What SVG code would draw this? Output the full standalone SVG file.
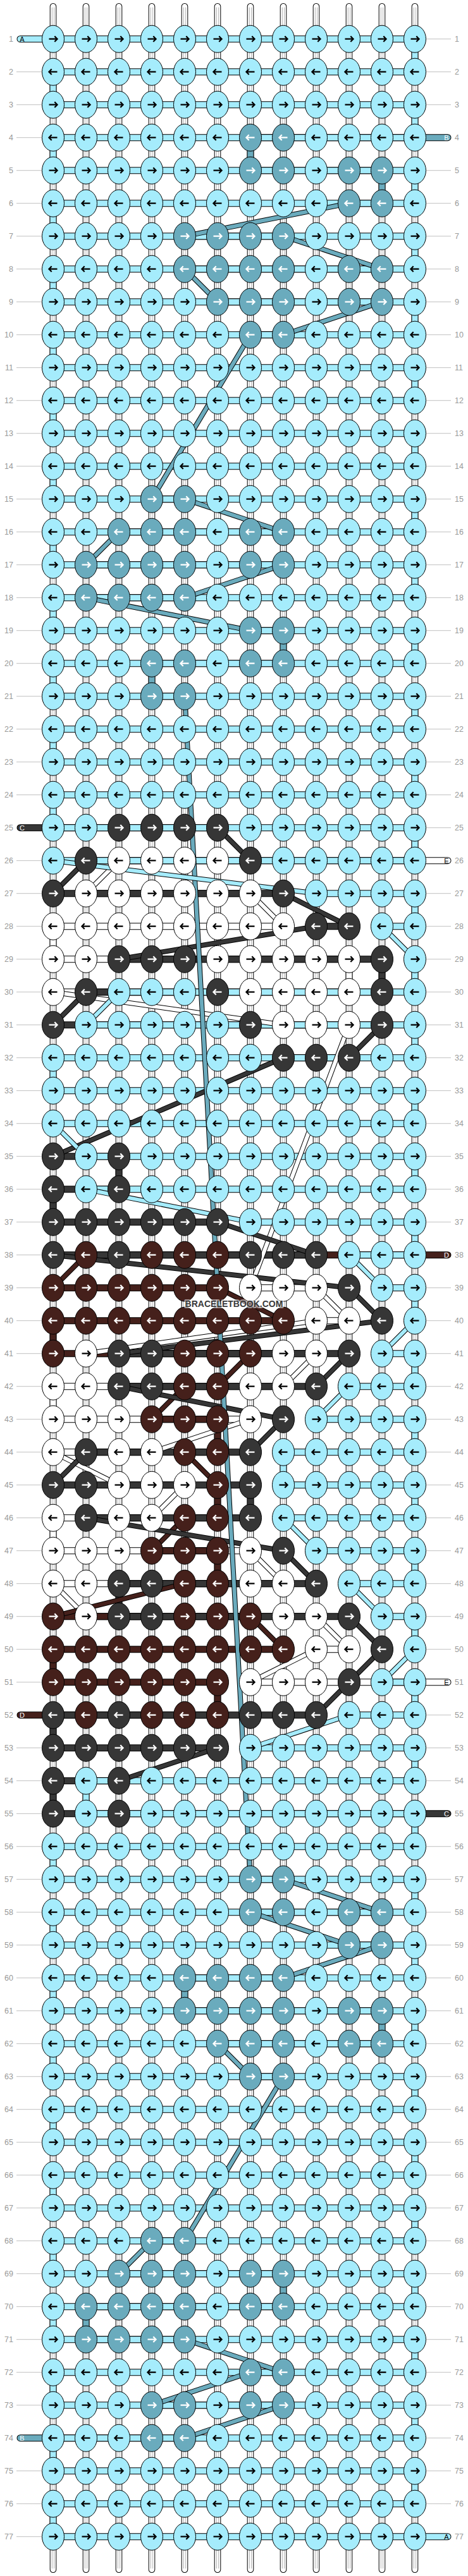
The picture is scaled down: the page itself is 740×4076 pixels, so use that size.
<svg xmlns="http://www.w3.org/2000/svg" width="740" height="4076" viewBox="0 0 740 4076">
<style>
.lb{font-family:"Liberation Sans",Arial,sans-serif;font-size:12.5px;fill:#999}
.l{text-anchor:end}
.ln{stroke:#c0c0c0;stroke-width:1;fill:none}
.sl{font-family:"Liberation Sans",Arial,sans-serif;font-size:11px;text-anchor:middle}
</style>
<defs>
<ellipse id="e" rx="17.5" ry="21.5" stroke="#000" stroke-width="1"/>
<path id="ar" d="M-6.5 0H5.5M2.3-4.4L6.6 0 2.3 4.4" fill="none" stroke-width="2.2"/>
<path id="al" d="M6.5 0H-5.5M-2.3-4.4L-6.6 0-2.3 4.4" fill="none" stroke-width="2.2"/>
<g id="aR"><use href="#e" fill="#a5ecfc"/><use href="#ar" stroke="#000"/></g>
<g id="aL"><use href="#e" fill="#a5ecfc"/><use href="#al" stroke="#000"/></g>
<g id="tR"><use href="#e" fill="#6aabbd"/><use href="#ar" stroke="#fff"/></g>
<g id="tL"><use href="#e" fill="#6aabbd"/><use href="#al" stroke="#fff"/></g>
<g id="gR"><use href="#e" fill="#363636"/><use href="#ar" stroke="#fff"/></g>
<g id="gL"><use href="#e" fill="#363636"/><use href="#al" stroke="#fff"/></g>
<g id="bR"><use href="#e" fill="#45201b"/><use href="#ar" stroke="#fff"/></g>
<g id="bL"><use href="#e" fill="#45201b"/><use href="#al" stroke="#fff"/></g>
<g id="wR"><use href="#e" fill="#fff"/><use href="#ar" stroke="#000"/></g>
<g id="wL"><use href="#e" fill="#fff"/><use href="#al" stroke="#000"/></g>
<path id="bA" d="M0 52H624V104H52V156H624V208H52V260H624V312H52V364H624V416H52V468H624V520H52V572H624V624H52V676H624V728H52V780H624V832H52V884H624V936H52V988H624V1040H52V1092H624V1144H52V1196H624V1248H52V1300H624V1352H52M468 1404H624V1456H572M624 1508V1560H156M104 1612H624V1664H52V1716H624V1768H52M104 1820H624V1872H104M364 1924H624V1976H520M572 2028H624V2080M572 2132H624V2184H520M468 2236H624V2288H416V2340H624V2392H416M468 2444H624V2496H520M572 2548H624V2600M572 2652H624V2704H520M364 2756H624V2808H104V2860H624V2912H52V2964H624V3016H52V3068H624V3120H52V3172H624V3224H52V3276H624V3328H52V3380H624V3432H52V3484H624V3536H52V3588H624V3640H52V3692H624V3744H52V3796H624V3848H52V3900H624V3952H52V4004H676"/>
<path id="dA" d="M52 1352L468 1404M572 1456L624 1508M156 1560L104 1612M52 1768L104 1820M104 1872L364 1924M520 1976L572 2028M624 2080L572 2132M520 2184L468 2236M416 2392L468 2444M520 2496L572 2548M624 2600L572 2652M520 2704L364 2756"/>
<path id="bB" d="M676 208H364V260H572V312H520M260 364H416M572 416H260M312 468H572M416 520H364M208 780H260M416 832H156M104 884H416M260 936H104M364 988H416V1040H208V1092H260M364 2964H416M572 3016H364M520 3068H572M416 3120H260V3172H572V3224H312M364 3276H416M260 3536H208M156 3588H416V3640H104V3692H260M416 3744H364M208 3796H416M260 3848H0"/>
<path id="dB" d="M520 312L260 364M416 364L572 416M260 416L312 468M572 468L416 520M364 520L208 780M260 780L416 832M156 832L104 884M416 884L260 936M104 936L364 988M260 1092L364 2964M416 2964L572 3016M364 3016L520 3068M572 3068L416 3120M312 3224L364 3276M416 3276L260 3536M208 3536L156 3588M260 3692L416 3744M364 3744L208 3796M416 3796L260 3848"/>
<path id="bC" d="M0 1300H312M364 1352H104M52 1404H416M520 1456H468M156 1508H572V1560H104M52 1612H572M520 1664H416M52 1820H156V1872H52V1924H312M468 1976H52M156 2132H520M468 2184H156M364 2288H104M52 2340H364V2392H104M468 2496H156V2548H520M468 2704H52V2756H312M156 2808H52V2860H676"/>
<path id="dC" d="M312 1300L364 1352M104 1352L52 1404M416 1404L520 1456M468 1456L156 1508M104 1560L52 1612M572 1612L520 1664M416 1664L52 1820M312 1924L468 1976M52 1976L520 2028L572 2080L156 2132M520 2132L468 2184M156 2184L416 2236L364 2288M104 2288L52 2340M104 2392L416 2444L468 2496M520 2548L572 2600L520 2652L468 2704M312 2756L156 2808"/>
<path id="bD" d="M676 1976H104M52 2028H312M416 2080H52V2132H364M312 2184H260M208 2236H312V2288H260M312 2340V2392H260M208 2444H312V2496H260M52 2548H364M416 2600H52V2652H312V2704H0"/>
<path id="dD" d="M104 1976L52 2028M312 2028L416 2080M364 2132L312 2184M260 2184L208 2236M260 2288L312 2340M260 2392L208 2444M260 2496L52 2548M364 2548L416 2600"/>
<path id="bE" d="M676 1352H156M104 1404H364M416 1456H52V1508H520V1560H52M416 1612H520M364 2028H468M520 2080H468M104 2132H468M416 2184H52V2236H364M208 2288H52M156 2340H260M208 2392H52V2444H364M416 2496H52M104 2548H468M520 2600H468M364 2652H676"/>
<path id="dE" d="M156 1352L104 1404M364 1404L416 1456M52 1560L416 1612M520 1612L364 2028M468 2028L520 2080M468 2080L104 2132M468 2132L416 2184M364 2236L208 2288M52 2288L156 2340M260 2340L208 2392M364 2444L416 2496M52 2496L104 2548M468 2548L520 2600M468 2600L364 2652"/>
</defs>
<rect width="740" height="4076" fill="#fff"/>
<g transform="translate(32,9.7)">
<g id="connectors" fill="none" stroke-linecap="round" stroke-linejoin="round">
<path d="M52 .5V4056M104 .5V4056M156 .5V4056M208 .5V4056M260 .5V4056M312 .5V4056M364 .5V4056M416 .5V4056M468 .5V4056M520 .5V4056M572 .5V4056M624 .5V4056" stroke="#000" stroke-width="10.6"/>
<path d="M52 .5V4056M104 .5V4056M156 .5V4056M208 .5V4056M260 .5V4056M312 .5V4056M364 .5V4056M416 .5V4056M468 .5V4056M520 .5V4056M572 .5V4056M624 .5V4056" stroke="#fff" stroke-width="8.6"/>
<path d="M50.3 2V4054.5M53.7 2V4054.5M102.3 2V4054.5M105.7 2V4054.5M154.3 2V4054.5M157.7 2V4054.5M206.3 2V4054.5M209.7 2V4054.5M258.3 2V4054.5M261.7 2V4054.5M310.3 2V4054.5M313.7 2V4054.5M362.3 2V4054.5M365.7 2V4054.5M414.3 2V4054.5M417.7 2V4054.5M466.3 2V4054.5M469.7 2V4054.5M518.3 2V4054.5M521.7 2V4054.5M570.3 2V4054.5M573.7 2V4054.5M622.3 2V4054.5M625.7 2V4054.5" stroke="#999" stroke-width=".8" stroke-linecap="butt"/>
<use href="#bE" stroke="#000" stroke-width="11"/><use href="#bE" stroke="#fff" stroke-width="9"/>
<use href="#bD" stroke="#000" stroke-width="11"/><use href="#bD" stroke="#45201b" stroke-width="9"/>
<use href="#bC" stroke="#000" stroke-width="11"/><use href="#bC" stroke="#363636" stroke-width="9"/>
<use href="#bB" stroke="#000" stroke-width="11"/><use href="#bB" stroke="#6aabbd" stroke-width="9"/>
<use href="#bA" stroke="#000" stroke-width="11"/><use href="#bA" stroke="#a5ecfc" stroke-width="9"/>
<use href="#dE" stroke="#000" stroke-width="8"/><use href="#dE" stroke="#fff" stroke-width="6"/>
<use href="#dD" stroke="#000" stroke-width="8"/><use href="#dD" stroke="#45201b" stroke-width="6"/>
<use href="#dC" stroke="#000" stroke-width="8"/><use href="#dC" stroke="#363636" stroke-width="6"/>
<use href="#dB" stroke="#000" stroke-width="8"/><use href="#dB" stroke="#6aabbd" stroke-width="6"/>
<use href="#dA" stroke="#000" stroke-width="8"/><use href="#dA" stroke="#a5ecfc" stroke-width="6"/>
<g class="sl" stroke="none">
<text x="3" y="56" fill="#000">A</text>
<text x="674" y="212" fill="#fff">B</text>
<text x="3" y="1304" fill="#fff">C</text>
<text x="674" y="1356" fill="#000">E</text>
<text x="674" y="1980" fill="#fff">D</text>
<text x="674" y="2656" fill="#000">E</text>
<text x="3" y="2708" fill="#fff">D</text>
<text x="674" y="2864" fill="#fff">C</text>
<text x="3" y="3852" fill="#fff">B</text>
<text x="674" y="4008" fill="#000">A</text>
</g>
</g>
<g id="r1" transform="translate(0,52)"><path class="ln" d="M642 0H681"/><text class="lb l" x="-11" y="4.5">1</text><text class="lb" x="687" y="4.5">1</text><use id="k1-1" href="#aR" x="52"/><use id="k1-2" href="#aR" x="104"/><use id="k1-3" href="#aR" x="156"/><use id="k1-4" href="#aR" x="208"/><use id="k1-5" href="#aR" x="260"/><use id="k1-6" href="#aR" x="312"/><use id="k1-7" href="#aR" x="364"/><use id="k1-8" href="#aR" x="416"/><use id="k1-9" href="#aR" x="468"/><use id="k1-10" href="#aR" x="520"/><use id="k1-11" href="#aR" x="572"/><use id="k1-12" href="#aR" x="624"/></g>
<g id="r2" transform="translate(0,104)"><path class="ln" d="M-6 0H34M642 0H681"/><text class="lb l" x="-11" y="4.5">2</text><text class="lb" x="687" y="4.5">2</text><use id="k2-1" href="#aL" x="52"/><use id="k2-2" href="#aL" x="104"/><use id="k2-3" href="#aL" x="156"/><use id="k2-4" href="#aL" x="208"/><use id="k2-5" href="#aL" x="260"/><use id="k2-6" href="#aL" x="312"/><use id="k2-7" href="#aL" x="364"/><use id="k2-8" href="#aL" x="416"/><use id="k2-9" href="#aL" x="468"/><use id="k2-10" href="#aL" x="520"/><use id="k2-11" href="#aL" x="572"/><use id="k2-12" href="#aL" x="624"/></g>
<g id="r3" transform="translate(0,156)"><path class="ln" d="M-6 0H34M642 0H681"/><text class="lb l" x="-11" y="4.5">3</text><text class="lb" x="687" y="4.5">3</text><use id="k3-1" href="#aR" x="52"/><use id="k3-2" href="#aR" x="104"/><use id="k3-3" href="#aR" x="156"/><use id="k3-4" href="#aR" x="208"/><use id="k3-5" href="#aR" x="260"/><use id="k3-6" href="#aR" x="312"/><use id="k3-7" href="#aR" x="364"/><use id="k3-8" href="#aR" x="416"/><use id="k3-9" href="#aR" x="468"/><use id="k3-10" href="#aR" x="520"/><use id="k3-11" href="#aR" x="572"/><use id="k3-12" href="#aR" x="624"/></g>
<g id="r4" transform="translate(0,208)"><path class="ln" d="M-6 0H34"/><text class="lb l" x="-11" y="4.5">4</text><text class="lb" x="687" y="4.5">4</text><use id="k4-1" href="#aL" x="52"/><use id="k4-2" href="#aL" x="104"/><use id="k4-3" href="#aL" x="156"/><use id="k4-4" href="#aL" x="208"/><use id="k4-5" href="#aL" x="260"/><use id="k4-6" href="#aL" x="312"/><use id="k4-7" href="#tL" x="364"/><use id="k4-8" href="#tL" x="416"/><use id="k4-9" href="#aL" x="468"/><use id="k4-10" href="#aL" x="520"/><use id="k4-11" href="#aL" x="572"/><use id="k4-12" href="#aL" x="624"/></g>
<g id="r5" transform="translate(0,260)"><path class="ln" d="M-6 0H34M642 0H681"/><text class="lb l" x="-11" y="4.5">5</text><text class="lb" x="687" y="4.5">5</text><use id="k5-1" href="#aR" x="52"/><use id="k5-2" href="#aR" x="104"/><use id="k5-3" href="#aR" x="156"/><use id="k5-4" href="#aR" x="208"/><use id="k5-5" href="#aR" x="260"/><use id="k5-6" href="#aR" x="312"/><use id="k5-7" href="#tR" x="364"/><use id="k5-8" href="#tR" x="416"/><use id="k5-9" href="#aR" x="468"/><use id="k5-10" href="#tR" x="520"/><use id="k5-11" href="#tR" x="572"/><use id="k5-12" href="#aR" x="624"/></g>
<g id="r6" transform="translate(0,312)"><path class="ln" d="M-6 0H34M642 0H681"/><text class="lb l" x="-11" y="4.5">6</text><text class="lb" x="687" y="4.5">6</text><use id="k6-1" href="#aL" x="52"/><use id="k6-2" href="#aL" x="104"/><use id="k6-3" href="#aL" x="156"/><use id="k6-4" href="#aL" x="208"/><use id="k6-5" href="#aL" x="260"/><use id="k6-6" href="#aL" x="312"/><use id="k6-7" href="#aL" x="364"/><use id="k6-8" href="#aL" x="416"/><use id="k6-9" href="#aL" x="468"/><use id="k6-10" href="#tL" x="520"/><use id="k6-11" href="#tL" x="572"/><use id="k6-12" href="#aL" x="624"/></g>
<g id="r7" transform="translate(0,364)"><path class="ln" d="M-6 0H34M642 0H681"/><text class="lb l" x="-11" y="4.5">7</text><text class="lb" x="687" y="4.5">7</text><use id="k7-1" href="#aR" x="52"/><use id="k7-2" href="#aR" x="104"/><use id="k7-3" href="#aR" x="156"/><use id="k7-4" href="#aR" x="208"/><use id="k7-5" href="#tR" x="260"/><use id="k7-6" href="#tR" x="312"/><use id="k7-7" href="#tR" x="364"/><use id="k7-8" href="#tR" x="416"/><use id="k7-9" href="#aR" x="468"/><use id="k7-10" href="#aR" x="520"/><use id="k7-11" href="#aR" x="572"/><use id="k7-12" href="#aR" x="624"/></g>
<g id="r8" transform="translate(0,416)"><path class="ln" d="M-6 0H34M642 0H681"/><text class="lb l" x="-11" y="4.5">8</text><text class="lb" x="687" y="4.5">8</text><use id="k8-1" href="#aL" x="52"/><use id="k8-2" href="#aL" x="104"/><use id="k8-3" href="#aL" x="156"/><use id="k8-4" href="#aL" x="208"/><use id="k8-5" href="#tL" x="260"/><use id="k8-6" href="#tL" x="312"/><use id="k8-7" href="#tL" x="364"/><use id="k8-8" href="#tL" x="416"/><use id="k8-9" href="#aL" x="468"/><use id="k8-10" href="#tL" x="520"/><use id="k8-11" href="#tL" x="572"/><use id="k8-12" href="#aL" x="624"/></g>
<g id="r9" transform="translate(0,468)"><path class="ln" d="M-6 0H34M642 0H681"/><text class="lb l" x="-11" y="4.5">9</text><text class="lb" x="687" y="4.5">9</text><use id="k9-1" href="#aR" x="52"/><use id="k9-2" href="#aR" x="104"/><use id="k9-3" href="#aR" x="156"/><use id="k9-4" href="#aR" x="208"/><use id="k9-5" href="#aR" x="260"/><use id="k9-6" href="#tR" x="312"/><use id="k9-7" href="#tR" x="364"/><use id="k9-8" href="#tR" x="416"/><use id="k9-9" href="#aR" x="468"/><use id="k9-10" href="#tR" x="520"/><use id="k9-11" href="#tR" x="572"/><use id="k9-12" href="#aR" x="624"/></g>
<g id="r10" transform="translate(0,520)"><path class="ln" d="M-6 0H34M642 0H681"/><text class="lb l" x="-11" y="4.5">10</text><text class="lb" x="687" y="4.5">10</text><use id="k10-1" href="#aL" x="52"/><use id="k10-2" href="#aL" x="104"/><use id="k10-3" href="#aL" x="156"/><use id="k10-4" href="#aL" x="208"/><use id="k10-5" href="#aL" x="260"/><use id="k10-6" href="#aL" x="312"/><use id="k10-7" href="#tL" x="364"/><use id="k10-8" href="#tL" x="416"/><use id="k10-9" href="#aL" x="468"/><use id="k10-10" href="#aL" x="520"/><use id="k10-11" href="#aL" x="572"/><use id="k10-12" href="#aL" x="624"/></g>
<g id="r11" transform="translate(0,572)"><path class="ln" d="M-6 0H34M642 0H681"/><text class="lb l" x="-11" y="4.5">11</text><text class="lb" x="687" y="4.5">11</text><use id="k11-1" href="#aR" x="52"/><use id="k11-2" href="#aR" x="104"/><use id="k11-3" href="#aR" x="156"/><use id="k11-4" href="#aR" x="208"/><use id="k11-5" href="#aR" x="260"/><use id="k11-6" href="#aR" x="312"/><use id="k11-7" href="#aR" x="364"/><use id="k11-8" href="#aR" x="416"/><use id="k11-9" href="#aR" x="468"/><use id="k11-10" href="#aR" x="520"/><use id="k11-11" href="#aR" x="572"/><use id="k11-12" href="#aR" x="624"/></g>
<g id="r12" transform="translate(0,624)"><path class="ln" d="M-6 0H34M642 0H681"/><text class="lb l" x="-11" y="4.5">12</text><text class="lb" x="687" y="4.5">12</text><use id="k12-1" href="#aL" x="52"/><use id="k12-2" href="#aL" x="104"/><use id="k12-3" href="#aL" x="156"/><use id="k12-4" href="#aL" x="208"/><use id="k12-5" href="#aL" x="260"/><use id="k12-6" href="#aL" x="312"/><use id="k12-7" href="#aL" x="364"/><use id="k12-8" href="#aL" x="416"/><use id="k12-9" href="#aL" x="468"/><use id="k12-10" href="#aL" x="520"/><use id="k12-11" href="#aL" x="572"/><use id="k12-12" href="#aL" x="624"/></g>
<g id="r13" transform="translate(0,676)"><path class="ln" d="M-6 0H34M642 0H681"/><text class="lb l" x="-11" y="4.5">13</text><text class="lb" x="687" y="4.5">13</text><use id="k13-1" href="#aR" x="52"/><use id="k13-2" href="#aR" x="104"/><use id="k13-3" href="#aR" x="156"/><use id="k13-4" href="#aR" x="208"/><use id="k13-5" href="#aR" x="260"/><use id="k13-6" href="#aR" x="312"/><use id="k13-7" href="#aR" x="364"/><use id="k13-8" href="#aR" x="416"/><use id="k13-9" href="#aR" x="468"/><use id="k13-10" href="#aR" x="520"/><use id="k13-11" href="#aR" x="572"/><use id="k13-12" href="#aR" x="624"/></g>
<g id="r14" transform="translate(0,728)"><path class="ln" d="M-6 0H34M642 0H681"/><text class="lb l" x="-11" y="4.5">14</text><text class="lb" x="687" y="4.5">14</text><use id="k14-1" href="#aL" x="52"/><use id="k14-2" href="#aL" x="104"/><use id="k14-3" href="#aL" x="156"/><use id="k14-4" href="#aL" x="208"/><use id="k14-5" href="#aL" x="260"/><use id="k14-6" href="#aL" x="312"/><use id="k14-7" href="#aL" x="364"/><use id="k14-8" href="#aL" x="416"/><use id="k14-9" href="#aL" x="468"/><use id="k14-10" href="#aL" x="520"/><use id="k14-11" href="#aL" x="572"/><use id="k14-12" href="#aL" x="624"/></g>
<g id="r15" transform="translate(0,780)"><path class="ln" d="M-6 0H34M642 0H681"/><text class="lb l" x="-11" y="4.5">15</text><text class="lb" x="687" y="4.5">15</text><use id="k15-1" href="#aR" x="52"/><use id="k15-2" href="#aR" x="104"/><use id="k15-3" href="#aR" x="156"/><use id="k15-4" href="#tR" x="208"/><use id="k15-5" href="#tR" x="260"/><use id="k15-6" href="#aR" x="312"/><use id="k15-7" href="#aR" x="364"/><use id="k15-8" href="#aR" x="416"/><use id="k15-9" href="#aR" x="468"/><use id="k15-10" href="#aR" x="520"/><use id="k15-11" href="#aR" x="572"/><use id="k15-12" href="#aR" x="624"/></g>
<g id="r16" transform="translate(0,832)"><path class="ln" d="M-6 0H34M642 0H681"/><text class="lb l" x="-11" y="4.5">16</text><text class="lb" x="687" y="4.5">16</text><use id="k16-1" href="#aL" x="52"/><use id="k16-2" href="#aL" x="104"/><use id="k16-3" href="#tL" x="156"/><use id="k16-4" href="#tL" x="208"/><use id="k16-5" href="#tL" x="260"/><use id="k16-6" href="#aL" x="312"/><use id="k16-7" href="#tL" x="364"/><use id="k16-8" href="#tL" x="416"/><use id="k16-9" href="#aL" x="468"/><use id="k16-10" href="#aL" x="520"/><use id="k16-11" href="#aL" x="572"/><use id="k16-12" href="#aL" x="624"/></g>
<g id="r17" transform="translate(0,884)"><path class="ln" d="M-6 0H34M642 0H681"/><text class="lb l" x="-11" y="4.5">17</text><text class="lb" x="687" y="4.5">17</text><use id="k17-1" href="#aR" x="52"/><use id="k17-2" href="#tR" x="104"/><use id="k17-3" href="#tR" x="156"/><use id="k17-4" href="#tR" x="208"/><use id="k17-5" href="#tR" x="260"/><use id="k17-6" href="#aR" x="312"/><use id="k17-7" href="#tR" x="364"/><use id="k17-8" href="#tR" x="416"/><use id="k17-9" href="#aR" x="468"/><use id="k17-10" href="#aR" x="520"/><use id="k17-11" href="#aR" x="572"/><use id="k17-12" href="#aR" x="624"/></g>
<g id="r18" transform="translate(0,936)"><path class="ln" d="M-6 0H34M642 0H681"/><text class="lb l" x="-11" y="4.5">18</text><text class="lb" x="687" y="4.5">18</text><use id="k18-1" href="#aL" x="52"/><use id="k18-2" href="#tL" x="104"/><use id="k18-3" href="#tL" x="156"/><use id="k18-4" href="#tL" x="208"/><use id="k18-5" href="#tL" x="260"/><use id="k18-6" href="#aL" x="312"/><use id="k18-7" href="#aL" x="364"/><use id="k18-8" href="#aL" x="416"/><use id="k18-9" href="#aL" x="468"/><use id="k18-10" href="#aL" x="520"/><use id="k18-11" href="#aL" x="572"/><use id="k18-12" href="#aL" x="624"/></g>
<g id="r19" transform="translate(0,988)"><path class="ln" d="M-6 0H34M642 0H681"/><text class="lb l" x="-11" y="4.5">19</text><text class="lb" x="687" y="4.5">19</text><use id="k19-1" href="#aR" x="52"/><use id="k19-2" href="#aR" x="104"/><use id="k19-3" href="#aR" x="156"/><use id="k19-4" href="#aR" x="208"/><use id="k19-5" href="#aR" x="260"/><use id="k19-6" href="#aR" x="312"/><use id="k19-7" href="#tR" x="364"/><use id="k19-8" href="#tR" x="416"/><use id="k19-9" href="#aR" x="468"/><use id="k19-10" href="#aR" x="520"/><use id="k19-11" href="#aR" x="572"/><use id="k19-12" href="#aR" x="624"/></g>
<g id="r20" transform="translate(0,1040)"><path class="ln" d="M-6 0H34M642 0H681"/><text class="lb l" x="-11" y="4.5">20</text><text class="lb" x="687" y="4.5">20</text><use id="k20-1" href="#aL" x="52"/><use id="k20-2" href="#aL" x="104"/><use id="k20-3" href="#aL" x="156"/><use id="k20-4" href="#tL" x="208"/><use id="k20-5" href="#tL" x="260"/><use id="k20-6" href="#aL" x="312"/><use id="k20-7" href="#tL" x="364"/><use id="k20-8" href="#tL" x="416"/><use id="k20-9" href="#aL" x="468"/><use id="k20-10" href="#aL" x="520"/><use id="k20-11" href="#aL" x="572"/><use id="k20-12" href="#aL" x="624"/></g>
<g id="r21" transform="translate(0,1092)"><path class="ln" d="M-6 0H34M642 0H681"/><text class="lb l" x="-11" y="4.5">21</text><text class="lb" x="687" y="4.5">21</text><use id="k21-1" href="#aR" x="52"/><use id="k21-2" href="#aR" x="104"/><use id="k21-3" href="#aR" x="156"/><use id="k21-4" href="#tR" x="208"/><use id="k21-5" href="#tR" x="260"/><use id="k21-6" href="#aR" x="312"/><use id="k21-7" href="#aR" x="364"/><use id="k21-8" href="#aR" x="416"/><use id="k21-9" href="#aR" x="468"/><use id="k21-10" href="#aR" x="520"/><use id="k21-11" href="#aR" x="572"/><use id="k21-12" href="#aR" x="624"/></g>
<g id="r22" transform="translate(0,1144)"><path class="ln" d="M-6 0H34M642 0H681"/><text class="lb l" x="-11" y="4.5">22</text><text class="lb" x="687" y="4.5">22</text><use id="k22-1" href="#aL" x="52"/><use id="k22-2" href="#aL" x="104"/><use id="k22-3" href="#aL" x="156"/><use id="k22-4" href="#aL" x="208"/><use id="k22-5" href="#aL" x="260"/><use id="k22-6" href="#aL" x="312"/><use id="k22-7" href="#aL" x="364"/><use id="k22-8" href="#aL" x="416"/><use id="k22-9" href="#aL" x="468"/><use id="k22-10" href="#aL" x="520"/><use id="k22-11" href="#aL" x="572"/><use id="k22-12" href="#aL" x="624"/></g>
<g id="r23" transform="translate(0,1196)"><path class="ln" d="M-6 0H34M642 0H681"/><text class="lb l" x="-11" y="4.5">23</text><text class="lb" x="687" y="4.5">23</text><use id="k23-1" href="#aR" x="52"/><use id="k23-2" href="#aR" x="104"/><use id="k23-3" href="#aR" x="156"/><use id="k23-4" href="#aR" x="208"/><use id="k23-5" href="#aR" x="260"/><use id="k23-6" href="#aR" x="312"/><use id="k23-7" href="#aR" x="364"/><use id="k23-8" href="#aR" x="416"/><use id="k23-9" href="#aR" x="468"/><use id="k23-10" href="#aR" x="520"/><use id="k23-11" href="#aR" x="572"/><use id="k23-12" href="#aR" x="624"/></g>
<g id="r24" transform="translate(0,1248)"><path class="ln" d="M-6 0H34M642 0H681"/><text class="lb l" x="-11" y="4.5">24</text><text class="lb" x="687" y="4.5">24</text><use id="k24-1" href="#aL" x="52"/><use id="k24-2" href="#aL" x="104"/><use id="k24-3" href="#aL" x="156"/><use id="k24-4" href="#aL" x="208"/><use id="k24-5" href="#aL" x="260"/><use id="k24-6" href="#aL" x="312"/><use id="k24-7" href="#aL" x="364"/><use id="k24-8" href="#aL" x="416"/><use id="k24-9" href="#aL" x="468"/><use id="k24-10" href="#aL" x="520"/><use id="k24-11" href="#aL" x="572"/><use id="k24-12" href="#aL" x="624"/></g>
<g id="r25" transform="translate(0,1300)"><path class="ln" d="M642 0H681"/><text class="lb l" x="-11" y="4.5">25</text><text class="lb" x="687" y="4.5">25</text><use id="k25-1" href="#aR" x="52"/><use id="k25-2" href="#aR" x="104"/><use id="k25-3" href="#gR" x="156"/><use id="k25-4" href="#gR" x="208"/><use id="k25-5" href="#gR" x="260"/><use id="k25-6" href="#gR" x="312"/><use id="k25-7" href="#aR" x="364"/><use id="k25-8" href="#aR" x="416"/><use id="k25-9" href="#aR" x="468"/><use id="k25-10" href="#aR" x="520"/><use id="k25-11" href="#aR" x="572"/><use id="k25-12" href="#aR" x="624"/></g>
<g id="r26" transform="translate(0,1352)"><path class="ln" d="M-6 0H34"/><text class="lb l" x="-11" y="4.5">26</text><text class="lb" x="687" y="4.5">26</text><use id="k26-1" href="#aL" x="52"/><use id="k26-2" href="#gL" x="104"/><use id="k26-3" href="#wL" x="156"/><use id="k26-4" href="#wL" x="208"/><use id="k26-5" href="#wL" x="260"/><use id="k26-6" href="#wL" x="312"/><use id="k26-7" href="#gL" x="364"/><use id="k26-8" href="#aL" x="416"/><use id="k26-9" href="#aL" x="468"/><use id="k26-10" href="#aL" x="520"/><use id="k26-11" href="#aL" x="572"/><use id="k26-12" href="#aL" x="624"/></g>
<g id="r27" transform="translate(0,1404)"><path class="ln" d="M-6 0H34M642 0H681"/><text class="lb l" x="-11" y="4.5">27</text><text class="lb" x="687" y="4.5">27</text><use id="k27-1" href="#gR" x="52"/><use id="k27-2" href="#wR" x="104"/><use id="k27-3" href="#wR" x="156"/><use id="k27-4" href="#wR" x="208"/><use id="k27-5" href="#wR" x="260"/><use id="k27-6" href="#wR" x="312"/><use id="k27-7" href="#wR" x="364"/><use id="k27-8" href="#gR" x="416"/><use id="k27-9" href="#aR" x="468"/><use id="k27-10" href="#aR" x="520"/><use id="k27-11" href="#aR" x="572"/><use id="k27-12" href="#aR" x="624"/></g>
<g id="r28" transform="translate(0,1456)"><path class="ln" d="M-6 0H34M642 0H681"/><text class="lb l" x="-11" y="4.5">28</text><text class="lb" x="687" y="4.5">28</text><use id="k28-1" href="#wL" x="52"/><use id="k28-2" href="#wL" x="104"/><use id="k28-3" href="#wL" x="156"/><use id="k28-4" href="#wL" x="208"/><use id="k28-5" href="#wL" x="260"/><use id="k28-6" href="#wL" x="312"/><use id="k28-7" href="#wL" x="364"/><use id="k28-8" href="#wL" x="416"/><use id="k28-9" href="#gL" x="468"/><use id="k28-10" href="#gL" x="520"/><use id="k28-11" href="#aL" x="572"/><use id="k28-12" href="#aL" x="624"/></g>
<g id="r29" transform="translate(0,1508)"><path class="ln" d="M-6 0H34M642 0H681"/><text class="lb l" x="-11" y="4.5">29</text><text class="lb" x="687" y="4.5">29</text><use id="k29-1" href="#wR" x="52"/><use id="k29-2" href="#wR" x="104"/><use id="k29-3" href="#gR" x="156"/><use id="k29-4" href="#gR" x="208"/><use id="k29-5" href="#gR" x="260"/><use id="k29-6" href="#wR" x="312"/><use id="k29-7" href="#wR" x="364"/><use id="k29-8" href="#wR" x="416"/><use id="k29-9" href="#wR" x="468"/><use id="k29-10" href="#wR" x="520"/><use id="k29-11" href="#gR" x="572"/><use id="k29-12" href="#aR" x="624"/></g>
<g id="r30" transform="translate(0,1560)"><path class="ln" d="M-6 0H34M642 0H681"/><text class="lb l" x="-11" y="4.5">30</text><text class="lb" x="687" y="4.5">30</text><use id="k30-1" href="#wL" x="52"/><use id="k30-2" href="#gL" x="104"/><use id="k30-3" href="#aL" x="156"/><use id="k30-4" href="#aL" x="208"/><use id="k30-5" href="#aL" x="260"/><use id="k30-6" href="#gL" x="312"/><use id="k30-7" href="#wL" x="364"/><use id="k30-8" href="#wL" x="416"/><use id="k30-9" href="#wL" x="468"/><use id="k30-10" href="#wL" x="520"/><use id="k30-11" href="#gL" x="572"/><use id="k30-12" href="#aL" x="624"/></g>
<g id="r31" transform="translate(0,1612)"><path class="ln" d="M-6 0H34M642 0H681"/><text class="lb l" x="-11" y="4.5">31</text><text class="lb" x="687" y="4.5">31</text><use id="k31-1" href="#gR" x="52"/><use id="k31-2" href="#aR" x="104"/><use id="k31-3" href="#aR" x="156"/><use id="k31-4" href="#aR" x="208"/><use id="k31-5" href="#aR" x="260"/><use id="k31-6" href="#aR" x="312"/><use id="k31-7" href="#gR" x="364"/><use id="k31-8" href="#wR" x="416"/><use id="k31-9" href="#wR" x="468"/><use id="k31-10" href="#wR" x="520"/><use id="k31-11" href="#gR" x="572"/><use id="k31-12" href="#aR" x="624"/></g>
<g id="r32" transform="translate(0,1664)"><path class="ln" d="M-6 0H34M642 0H681"/><text class="lb l" x="-11" y="4.5">32</text><text class="lb" x="687" y="4.5">32</text><use id="k32-1" href="#aL" x="52"/><use id="k32-2" href="#aL" x="104"/><use id="k32-3" href="#aL" x="156"/><use id="k32-4" href="#aL" x="208"/><use id="k32-5" href="#aL" x="260"/><use id="k32-6" href="#aL" x="312"/><use id="k32-7" href="#aL" x="364"/><use id="k32-8" href="#gL" x="416"/><use id="k32-9" href="#gL" x="468"/><use id="k32-10" href="#gL" x="520"/><use id="k32-11" href="#aL" x="572"/><use id="k32-12" href="#aL" x="624"/></g>
<g id="r33" transform="translate(0,1716)"><path class="ln" d="M-6 0H34M642 0H681"/><text class="lb l" x="-11" y="4.5">33</text><text class="lb" x="687" y="4.5">33</text><use id="k33-1" href="#aR" x="52"/><use id="k33-2" href="#aR" x="104"/><use id="k33-3" href="#aR" x="156"/><use id="k33-4" href="#aR" x="208"/><use id="k33-5" href="#aR" x="260"/><use id="k33-6" href="#aR" x="312"/><use id="k33-7" href="#aR" x="364"/><use id="k33-8" href="#aR" x="416"/><use id="k33-9" href="#aR" x="468"/><use id="k33-10" href="#aR" x="520"/><use id="k33-11" href="#aR" x="572"/><use id="k33-12" href="#aR" x="624"/></g>
<g id="r34" transform="translate(0,1768)"><path class="ln" d="M-6 0H34M642 0H681"/><text class="lb l" x="-11" y="4.5">34</text><text class="lb" x="687" y="4.5">34</text><use id="k34-1" href="#aL" x="52"/><use id="k34-2" href="#aL" x="104"/><use id="k34-3" href="#aL" x="156"/><use id="k34-4" href="#aL" x="208"/><use id="k34-5" href="#aL" x="260"/><use id="k34-6" href="#aL" x="312"/><use id="k34-7" href="#aL" x="364"/><use id="k34-8" href="#aL" x="416"/><use id="k34-9" href="#aL" x="468"/><use id="k34-10" href="#aL" x="520"/><use id="k34-11" href="#aL" x="572"/><use id="k34-12" href="#aL" x="624"/></g>
<g id="r35" transform="translate(0,1820)"><path class="ln" d="M-6 0H34M642 0H681"/><text class="lb l" x="-11" y="4.5">35</text><text class="lb" x="687" y="4.5">35</text><use id="k35-1" href="#gR" x="52"/><use id="k35-2" href="#aR" x="104"/><use id="k35-3" href="#gR" x="156"/><use id="k35-4" href="#aR" x="208"/><use id="k35-5" href="#aR" x="260"/><use id="k35-6" href="#aR" x="312"/><use id="k35-7" href="#aR" x="364"/><use id="k35-8" href="#aR" x="416"/><use id="k35-9" href="#aR" x="468"/><use id="k35-10" href="#aR" x="520"/><use id="k35-11" href="#aR" x="572"/><use id="k35-12" href="#aR" x="624"/></g>
<g id="r36" transform="translate(0,1872)"><path class="ln" d="M-6 0H34M642 0H681"/><text class="lb l" x="-11" y="4.5">36</text><text class="lb" x="687" y="4.5">36</text><use id="k36-1" href="#gL" x="52"/><use id="k36-2" href="#aL" x="104"/><use id="k36-3" href="#gL" x="156"/><use id="k36-4" href="#aL" x="208"/><use id="k36-5" href="#aL" x="260"/><use id="k36-6" href="#aL" x="312"/><use id="k36-7" href="#aL" x="364"/><use id="k36-8" href="#aL" x="416"/><use id="k36-9" href="#aL" x="468"/><use id="k36-10" href="#aL" x="520"/><use id="k36-11" href="#aL" x="572"/><use id="k36-12" href="#aL" x="624"/></g>
<g id="r37" transform="translate(0,1924)"><path class="ln" d="M-6 0H34M642 0H681"/><text class="lb l" x="-11" y="4.5">37</text><text class="lb" x="687" y="4.5">37</text><use id="k37-1" href="#gR" x="52"/><use id="k37-2" href="#gR" x="104"/><use id="k37-3" href="#gR" x="156"/><use id="k37-4" href="#gR" x="208"/><use id="k37-5" href="#gR" x="260"/><use id="k37-6" href="#gR" x="312"/><use id="k37-7" href="#aR" x="364"/><use id="k37-8" href="#aR" x="416"/><use id="k37-9" href="#aR" x="468"/><use id="k37-10" href="#aR" x="520"/><use id="k37-11" href="#aR" x="572"/><use id="k37-12" href="#aR" x="624"/></g>
<g id="r38" transform="translate(0,1976)"><path class="ln" d="M-6 0H34"/><text class="lb l" x="-11" y="4.5">38</text><text class="lb" x="687" y="4.5">38</text><use id="k38-1" href="#gL" x="52"/><use id="k38-2" href="#bL" x="104"/><use id="k38-3" href="#gL" x="156"/><use id="k38-4" href="#bL" x="208"/><use id="k38-5" href="#bL" x="260"/><use id="k38-6" href="#bL" x="312"/><use id="k38-7" href="#gL" x="364"/><use id="k38-8" href="#gL" x="416"/><use id="k38-9" href="#gL" x="468"/><use id="k38-10" href="#aL" x="520"/><use id="k38-11" href="#aL" x="572"/><use id="k38-12" href="#aL" x="624"/></g>
<g id="r39" transform="translate(0,2028)"><path class="ln" d="M-6 0H34M642 0H681"/><text class="lb l" x="-11" y="4.5">39</text><text class="lb" x="687" y="4.5">39</text><use id="k39-1" href="#bR" x="52"/><use id="k39-2" href="#bR" x="104"/><use id="k39-3" href="#bR" x="156"/><use id="k39-4" href="#bR" x="208"/><use id="k39-5" href="#bR" x="260"/><use id="k39-6" href="#bR" x="312"/><use id="k39-7" href="#wR" x="364"/><use id="k39-8" href="#wR" x="416"/><use id="k39-9" href="#wR" x="468"/><use id="k39-10" href="#gR" x="520"/><use id="k39-11" href="#aR" x="572"/><use id="k39-12" href="#aR" x="624"/></g>
<g id="r40" transform="translate(0,2080)"><path class="ln" d="M-6 0H34M642 0H681"/><text class="lb l" x="-11" y="4.5">40</text><text class="lb" x="687" y="4.5">40</text><use id="k40-1" href="#bL" x="52"/><use id="k40-2" href="#bL" x="104"/><use id="k40-3" href="#bL" x="156"/><use id="k40-4" href="#bL" x="208"/><use id="k40-5" href="#bL" x="260"/><use id="k40-6" href="#bL" x="312"/><use id="k40-7" href="#bL" x="364"/><use id="k40-8" href="#bL" x="416"/><use id="k40-9" href="#wL" x="468"/><use id="k40-10" href="#wL" x="520"/><use id="k40-11" href="#gL" x="572"/><use id="k40-12" href="#aL" x="624"/></g>
<g id="r41" transform="translate(0,2132)"><path class="ln" d="M-6 0H34M642 0H681"/><text class="lb l" x="-11" y="4.5">41</text><text class="lb" x="687" y="4.5">41</text><use id="k41-1" href="#bR" x="52"/><use id="k41-2" href="#wR" x="104"/><use id="k41-3" href="#gR" x="156"/><use id="k41-4" href="#gR" x="208"/><use id="k41-5" href="#bR" x="260"/><use id="k41-6" href="#bR" x="312"/><use id="k41-7" href="#bR" x="364"/><use id="k41-8" href="#wR" x="416"/><use id="k41-9" href="#wR" x="468"/><use id="k41-10" href="#gR" x="520"/><use id="k41-11" href="#aR" x="572"/><use id="k41-12" href="#aR" x="624"/></g>
<g id="r42" transform="translate(0,2184)"><path class="ln" d="M-6 0H34M642 0H681"/><text class="lb l" x="-11" y="4.5">42</text><text class="lb" x="687" y="4.5">42</text><use id="k42-1" href="#wL" x="52"/><use id="k42-2" href="#wL" x="104"/><use id="k42-3" href="#gL" x="156"/><use id="k42-4" href="#gL" x="208"/><use id="k42-5" href="#bL" x="260"/><use id="k42-6" href="#bL" x="312"/><use id="k42-7" href="#wL" x="364"/><use id="k42-8" href="#wL" x="416"/><use id="k42-9" href="#gL" x="468"/><use id="k42-10" href="#aL" x="520"/><use id="k42-11" href="#aL" x="572"/><use id="k42-12" href="#aL" x="624"/></g>
<g id="r43" transform="translate(0,2236)"><path class="ln" d="M-6 0H34M642 0H681"/><text class="lb l" x="-11" y="4.5">43</text><text class="lb" x="687" y="4.5">43</text><use id="k43-1" href="#wR" x="52"/><use id="k43-2" href="#wR" x="104"/><use id="k43-3" href="#wR" x="156"/><use id="k43-4" href="#bR" x="208"/><use id="k43-5" href="#bR" x="260"/><use id="k43-6" href="#bR" x="312"/><use id="k43-7" href="#wR" x="364"/><use id="k43-8" href="#gR" x="416"/><use id="k43-9" href="#aR" x="468"/><use id="k43-10" href="#aR" x="520"/><use id="k43-11" href="#aR" x="572"/><use id="k43-12" href="#aR" x="624"/></g>
<g id="r44" transform="translate(0,2288)"><path class="ln" d="M-6 0H34M642 0H681"/><text class="lb l" x="-11" y="4.5">44</text><text class="lb" x="687" y="4.5">44</text><use id="k44-1" href="#wL" x="52"/><use id="k44-2" href="#gL" x="104"/><use id="k44-3" href="#wL" x="156"/><use id="k44-4" href="#wL" x="208"/><use id="k44-5" href="#bL" x="260"/><use id="k44-6" href="#bL" x="312"/><use id="k44-7" href="#gL" x="364"/><use id="k44-8" href="#aL" x="416"/><use id="k44-9" href="#aL" x="468"/><use id="k44-10" href="#aL" x="520"/><use id="k44-11" href="#aL" x="572"/><use id="k44-12" href="#aL" x="624"/></g>
<g id="r45" transform="translate(0,2340)"><path class="ln" d="M-6 0H34M642 0H681"/><text class="lb l" x="-11" y="4.5">45</text><text class="lb" x="687" y="4.5">45</text><use id="k45-1" href="#gR" x="52"/><use id="k45-2" href="#gR" x="104"/><use id="k45-3" href="#wR" x="156"/><use id="k45-4" href="#wR" x="208"/><use id="k45-5" href="#wR" x="260"/><use id="k45-6" href="#bR" x="312"/><use id="k45-7" href="#gR" x="364"/><use id="k45-8" href="#aR" x="416"/><use id="k45-9" href="#aR" x="468"/><use id="k45-10" href="#aR" x="520"/><use id="k45-11" href="#aR" x="572"/><use id="k45-12" href="#aR" x="624"/></g>
<g id="r46" transform="translate(0,2392)"><path class="ln" d="M-6 0H34M642 0H681"/><text class="lb l" x="-11" y="4.5">46</text><text class="lb" x="687" y="4.5">46</text><use id="k46-1" href="#wL" x="52"/><use id="k46-2" href="#gL" x="104"/><use id="k46-3" href="#wL" x="156"/><use id="k46-4" href="#wL" x="208"/><use id="k46-5" href="#bL" x="260"/><use id="k46-6" href="#bL" x="312"/><use id="k46-7" href="#gL" x="364"/><use id="k46-8" href="#aL" x="416"/><use id="k46-9" href="#aL" x="468"/><use id="k46-10" href="#aL" x="520"/><use id="k46-11" href="#aL" x="572"/><use id="k46-12" href="#aL" x="624"/></g>
<g id="r47" transform="translate(0,2444)"><path class="ln" d="M-6 0H34M642 0H681"/><text class="lb l" x="-11" y="4.5">47</text><text class="lb" x="687" y="4.5">47</text><use id="k47-1" href="#wR" x="52"/><use id="k47-2" href="#wR" x="104"/><use id="k47-3" href="#wR" x="156"/><use id="k47-4" href="#bR" x="208"/><use id="k47-5" href="#bR" x="260"/><use id="k47-6" href="#bR" x="312"/><use id="k47-7" href="#wR" x="364"/><use id="k47-8" href="#gR" x="416"/><use id="k47-9" href="#aR" x="468"/><use id="k47-10" href="#aR" x="520"/><use id="k47-11" href="#aR" x="572"/><use id="k47-12" href="#aR" x="624"/></g>
<g id="r48" transform="translate(0,2496)"><path class="ln" d="M-6 0H34M642 0H681"/><text class="lb l" x="-11" y="4.5">48</text><text class="lb" x="687" y="4.5">48</text><use id="k48-1" href="#wL" x="52"/><use id="k48-2" href="#wL" x="104"/><use id="k48-3" href="#gL" x="156"/><use id="k48-4" href="#gL" x="208"/><use id="k48-5" href="#bL" x="260"/><use id="k48-6" href="#bL" x="312"/><use id="k48-7" href="#wL" x="364"/><use id="k48-8" href="#wL" x="416"/><use id="k48-9" href="#gL" x="468"/><use id="k48-10" href="#aL" x="520"/><use id="k48-11" href="#aL" x="572"/><use id="k48-12" href="#aL" x="624"/></g>
<g id="r49" transform="translate(0,2548)"><path class="ln" d="M-6 0H34M642 0H681"/><text class="lb l" x="-11" y="4.5">49</text><text class="lb" x="687" y="4.5">49</text><use id="k49-1" href="#bR" x="52"/><use id="k49-2" href="#wR" x="104"/><use id="k49-3" href="#gR" x="156"/><use id="k49-4" href="#gR" x="208"/><use id="k49-5" href="#bR" x="260"/><use id="k49-6" href="#bR" x="312"/><use id="k49-7" href="#bR" x="364"/><use id="k49-8" href="#wR" x="416"/><use id="k49-9" href="#wR" x="468"/><use id="k49-10" href="#gR" x="520"/><use id="k49-11" href="#aR" x="572"/><use id="k49-12" href="#aR" x="624"/></g>
<g id="r50" transform="translate(0,2600)"><path class="ln" d="M-6 0H34M642 0H681"/><text class="lb l" x="-11" y="4.5">50</text><text class="lb" x="687" y="4.5">50</text><use id="k50-1" href="#bL" x="52"/><use id="k50-2" href="#bL" x="104"/><use id="k50-3" href="#bL" x="156"/><use id="k50-4" href="#bL" x="208"/><use id="k50-5" href="#bL" x="260"/><use id="k50-6" href="#bL" x="312"/><use id="k50-7" href="#bL" x="364"/><use id="k50-8" href="#bL" x="416"/><use id="k50-9" href="#wL" x="468"/><use id="k50-10" href="#wL" x="520"/><use id="k50-11" href="#gL" x="572"/><use id="k50-12" href="#aL" x="624"/></g>
<g id="r51" transform="translate(0,2652)"><path class="ln" d="M-6 0H34"/><text class="lb l" x="-11" y="4.5">51</text><text class="lb" x="687" y="4.5">51</text><use id="k51-1" href="#bR" x="52"/><use id="k51-2" href="#bR" x="104"/><use id="k51-3" href="#bR" x="156"/><use id="k51-4" href="#bR" x="208"/><use id="k51-5" href="#bR" x="260"/><use id="k51-6" href="#bR" x="312"/><use id="k51-7" href="#wR" x="364"/><use id="k51-8" href="#wR" x="416"/><use id="k51-9" href="#wR" x="468"/><use id="k51-10" href="#gR" x="520"/><use id="k51-11" href="#aR" x="572"/><use id="k51-12" href="#aR" x="624"/></g>
<g id="r52" transform="translate(0,2704)"><path class="ln" d="M642 0H681"/><text class="lb l" x="-11" y="4.5">52</text><text class="lb" x="687" y="4.5">52</text><use id="k52-1" href="#gL" x="52"/><use id="k52-2" href="#bL" x="104"/><use id="k52-3" href="#gL" x="156"/><use id="k52-4" href="#bL" x="208"/><use id="k52-5" href="#bL" x="260"/><use id="k52-6" href="#bL" x="312"/><use id="k52-7" href="#gL" x="364"/><use id="k52-8" href="#gL" x="416"/><use id="k52-9" href="#gL" x="468"/><use id="k52-10" href="#aL" x="520"/><use id="k52-11" href="#aL" x="572"/><use id="k52-12" href="#aL" x="624"/></g>
<g id="r53" transform="translate(0,2756)"><path class="ln" d="M-6 0H34M642 0H681"/><text class="lb l" x="-11" y="4.5">53</text><text class="lb" x="687" y="4.5">53</text><use id="k53-1" href="#gR" x="52"/><use id="k53-2" href="#gR" x="104"/><use id="k53-3" href="#gR" x="156"/><use id="k53-4" href="#gR" x="208"/><use id="k53-5" href="#gR" x="260"/><use id="k53-6" href="#gR" x="312"/><use id="k53-7" href="#aR" x="364"/><use id="k53-8" href="#aR" x="416"/><use id="k53-9" href="#aR" x="468"/><use id="k53-10" href="#aR" x="520"/><use id="k53-11" href="#aR" x="572"/><use id="k53-12" href="#aR" x="624"/></g>
<g id="r54" transform="translate(0,2808)"><path class="ln" d="M-6 0H34M642 0H681"/><text class="lb l" x="-11" y="4.5">54</text><text class="lb" x="687" y="4.5">54</text><use id="k54-1" href="#gL" x="52"/><use id="k54-2" href="#aL" x="104"/><use id="k54-3" href="#gL" x="156"/><use id="k54-4" href="#aL" x="208"/><use id="k54-5" href="#aL" x="260"/><use id="k54-6" href="#aL" x="312"/><use id="k54-7" href="#aL" x="364"/><use id="k54-8" href="#aL" x="416"/><use id="k54-9" href="#aL" x="468"/><use id="k54-10" href="#aL" x="520"/><use id="k54-11" href="#aL" x="572"/><use id="k54-12" href="#aL" x="624"/></g>
<g id="r55" transform="translate(0,2860)"><path class="ln" d="M-6 0H34"/><text class="lb l" x="-11" y="4.5">55</text><text class="lb" x="687" y="4.5">55</text><use id="k55-1" href="#gR" x="52"/><use id="k55-2" href="#aR" x="104"/><use id="k55-3" href="#gR" x="156"/><use id="k55-4" href="#aR" x="208"/><use id="k55-5" href="#aR" x="260"/><use id="k55-6" href="#aR" x="312"/><use id="k55-7" href="#aR" x="364"/><use id="k55-8" href="#aR" x="416"/><use id="k55-9" href="#aR" x="468"/><use id="k55-10" href="#aR" x="520"/><use id="k55-11" href="#aR" x="572"/><use id="k55-12" href="#aR" x="624"/></g>
<g id="r56" transform="translate(0,2912)"><path class="ln" d="M-6 0H34M642 0H681"/><text class="lb l" x="-11" y="4.5">56</text><text class="lb" x="687" y="4.5">56</text><use id="k56-1" href="#aL" x="52"/><use id="k56-2" href="#aL" x="104"/><use id="k56-3" href="#aL" x="156"/><use id="k56-4" href="#aL" x="208"/><use id="k56-5" href="#aL" x="260"/><use id="k56-6" href="#aL" x="312"/><use id="k56-7" href="#aL" x="364"/><use id="k56-8" href="#aL" x="416"/><use id="k56-9" href="#aL" x="468"/><use id="k56-10" href="#aL" x="520"/><use id="k56-11" href="#aL" x="572"/><use id="k56-12" href="#aL" x="624"/></g>
<g id="r57" transform="translate(0,2964)"><path class="ln" d="M-6 0H34M642 0H681"/><text class="lb l" x="-11" y="4.5">57</text><text class="lb" x="687" y="4.5">57</text><use id="k57-1" href="#aR" x="52"/><use id="k57-2" href="#aR" x="104"/><use id="k57-3" href="#aR" x="156"/><use id="k57-4" href="#aR" x="208"/><use id="k57-5" href="#aR" x="260"/><use id="k57-6" href="#aR" x="312"/><use id="k57-7" href="#tR" x="364"/><use id="k57-8" href="#tR" x="416"/><use id="k57-9" href="#aR" x="468"/><use id="k57-10" href="#aR" x="520"/><use id="k57-11" href="#aR" x="572"/><use id="k57-12" href="#aR" x="624"/></g>
<g id="r58" transform="translate(0,3016)"><path class="ln" d="M-6 0H34M642 0H681"/><text class="lb l" x="-11" y="4.5">58</text><text class="lb" x="687" y="4.5">58</text><use id="k58-1" href="#aL" x="52"/><use id="k58-2" href="#aL" x="104"/><use id="k58-3" href="#aL" x="156"/><use id="k58-4" href="#aL" x="208"/><use id="k58-5" href="#aL" x="260"/><use id="k58-6" href="#aL" x="312"/><use id="k58-7" href="#tL" x="364"/><use id="k58-8" href="#tL" x="416"/><use id="k58-9" href="#aL" x="468"/><use id="k58-10" href="#tL" x="520"/><use id="k58-11" href="#tL" x="572"/><use id="k58-12" href="#aL" x="624"/></g>
<g id="r59" transform="translate(0,3068)"><path class="ln" d="M-6 0H34M642 0H681"/><text class="lb l" x="-11" y="4.5">59</text><text class="lb" x="687" y="4.5">59</text><use id="k59-1" href="#aR" x="52"/><use id="k59-2" href="#aR" x="104"/><use id="k59-3" href="#aR" x="156"/><use id="k59-4" href="#aR" x="208"/><use id="k59-5" href="#aR" x="260"/><use id="k59-6" href="#aR" x="312"/><use id="k59-7" href="#aR" x="364"/><use id="k59-8" href="#aR" x="416"/><use id="k59-9" href="#aR" x="468"/><use id="k59-10" href="#tR" x="520"/><use id="k59-11" href="#tR" x="572"/><use id="k59-12" href="#aR" x="624"/></g>
<g id="r60" transform="translate(0,3120)"><path class="ln" d="M-6 0H34M642 0H681"/><text class="lb l" x="-11" y="4.5">60</text><text class="lb" x="687" y="4.5">60</text><use id="k60-1" href="#aL" x="52"/><use id="k60-2" href="#aL" x="104"/><use id="k60-3" href="#aL" x="156"/><use id="k60-4" href="#aL" x="208"/><use id="k60-5" href="#tL" x="260"/><use id="k60-6" href="#tL" x="312"/><use id="k60-7" href="#tL" x="364"/><use id="k60-8" href="#tL" x="416"/><use id="k60-9" href="#aL" x="468"/><use id="k60-10" href="#aL" x="520"/><use id="k60-11" href="#aL" x="572"/><use id="k60-12" href="#aL" x="624"/></g>
<g id="r61" transform="translate(0,3172)"><path class="ln" d="M-6 0H34M642 0H681"/><text class="lb l" x="-11" y="4.5">61</text><text class="lb" x="687" y="4.5">61</text><use id="k61-1" href="#aR" x="52"/><use id="k61-2" href="#aR" x="104"/><use id="k61-3" href="#aR" x="156"/><use id="k61-4" href="#aR" x="208"/><use id="k61-5" href="#tR" x="260"/><use id="k61-6" href="#tR" x="312"/><use id="k61-7" href="#tR" x="364"/><use id="k61-8" href="#tR" x="416"/><use id="k61-9" href="#aR" x="468"/><use id="k61-10" href="#tR" x="520"/><use id="k61-11" href="#tR" x="572"/><use id="k61-12" href="#aR" x="624"/></g>
<g id="r62" transform="translate(0,3224)"><path class="ln" d="M-6 0H34M642 0H681"/><text class="lb l" x="-11" y="4.5">62</text><text class="lb" x="687" y="4.5">62</text><use id="k62-1" href="#aL" x="52"/><use id="k62-2" href="#aL" x="104"/><use id="k62-3" href="#aL" x="156"/><use id="k62-4" href="#aL" x="208"/><use id="k62-5" href="#aL" x="260"/><use id="k62-6" href="#tL" x="312"/><use id="k62-7" href="#tL" x="364"/><use id="k62-8" href="#tL" x="416"/><use id="k62-9" href="#aL" x="468"/><use id="k62-10" href="#tL" x="520"/><use id="k62-11" href="#tL" x="572"/><use id="k62-12" href="#aL" x="624"/></g>
<g id="r63" transform="translate(0,3276)"><path class="ln" d="M-6 0H34M642 0H681"/><text class="lb l" x="-11" y="4.5">63</text><text class="lb" x="687" y="4.5">63</text><use id="k63-1" href="#aR" x="52"/><use id="k63-2" href="#aR" x="104"/><use id="k63-3" href="#aR" x="156"/><use id="k63-4" href="#aR" x="208"/><use id="k63-5" href="#aR" x="260"/><use id="k63-6" href="#aR" x="312"/><use id="k63-7" href="#tR" x="364"/><use id="k63-8" href="#tR" x="416"/><use id="k63-9" href="#aR" x="468"/><use id="k63-10" href="#aR" x="520"/><use id="k63-11" href="#aR" x="572"/><use id="k63-12" href="#aR" x="624"/></g>
<g id="r64" transform="translate(0,3328)"><path class="ln" d="M-6 0H34M642 0H681"/><text class="lb l" x="-11" y="4.5">64</text><text class="lb" x="687" y="4.5">64</text><use id="k64-1" href="#aL" x="52"/><use id="k64-2" href="#aL" x="104"/><use id="k64-3" href="#aL" x="156"/><use id="k64-4" href="#aL" x="208"/><use id="k64-5" href="#aL" x="260"/><use id="k64-6" href="#aL" x="312"/><use id="k64-7" href="#aL" x="364"/><use id="k64-8" href="#aL" x="416"/><use id="k64-9" href="#aL" x="468"/><use id="k64-10" href="#aL" x="520"/><use id="k64-11" href="#aL" x="572"/><use id="k64-12" href="#aL" x="624"/></g>
<g id="r65" transform="translate(0,3380)"><path class="ln" d="M-6 0H34M642 0H681"/><text class="lb l" x="-11" y="4.5">65</text><text class="lb" x="687" y="4.5">65</text><use id="k65-1" href="#aR" x="52"/><use id="k65-2" href="#aR" x="104"/><use id="k65-3" href="#aR" x="156"/><use id="k65-4" href="#aR" x="208"/><use id="k65-5" href="#aR" x="260"/><use id="k65-6" href="#aR" x="312"/><use id="k65-7" href="#aR" x="364"/><use id="k65-8" href="#aR" x="416"/><use id="k65-9" href="#aR" x="468"/><use id="k65-10" href="#aR" x="520"/><use id="k65-11" href="#aR" x="572"/><use id="k65-12" href="#aR" x="624"/></g>
<g id="r66" transform="translate(0,3432)"><path class="ln" d="M-6 0H34M642 0H681"/><text class="lb l" x="-11" y="4.5">66</text><text class="lb" x="687" y="4.5">66</text><use id="k66-1" href="#aL" x="52"/><use id="k66-2" href="#aL" x="104"/><use id="k66-3" href="#aL" x="156"/><use id="k66-4" href="#aL" x="208"/><use id="k66-5" href="#aL" x="260"/><use id="k66-6" href="#aL" x="312"/><use id="k66-7" href="#aL" x="364"/><use id="k66-8" href="#aL" x="416"/><use id="k66-9" href="#aL" x="468"/><use id="k66-10" href="#aL" x="520"/><use id="k66-11" href="#aL" x="572"/><use id="k66-12" href="#aL" x="624"/></g>
<g id="r67" transform="translate(0,3484)"><path class="ln" d="M-6 0H34M642 0H681"/><text class="lb l" x="-11" y="4.5">67</text><text class="lb" x="687" y="4.5">67</text><use id="k67-1" href="#aR" x="52"/><use id="k67-2" href="#aR" x="104"/><use id="k67-3" href="#aR" x="156"/><use id="k67-4" href="#aR" x="208"/><use id="k67-5" href="#aR" x="260"/><use id="k67-6" href="#aR" x="312"/><use id="k67-7" href="#aR" x="364"/><use id="k67-8" href="#aR" x="416"/><use id="k67-9" href="#aR" x="468"/><use id="k67-10" href="#aR" x="520"/><use id="k67-11" href="#aR" x="572"/><use id="k67-12" href="#aR" x="624"/></g>
<g id="r68" transform="translate(0,3536)"><path class="ln" d="M-6 0H34M642 0H681"/><text class="lb l" x="-11" y="4.5">68</text><text class="lb" x="687" y="4.5">68</text><use id="k68-1" href="#aL" x="52"/><use id="k68-2" href="#aL" x="104"/><use id="k68-3" href="#aL" x="156"/><use id="k68-4" href="#tL" x="208"/><use id="k68-5" href="#tL" x="260"/><use id="k68-6" href="#aL" x="312"/><use id="k68-7" href="#aL" x="364"/><use id="k68-8" href="#aL" x="416"/><use id="k68-9" href="#aL" x="468"/><use id="k68-10" href="#aL" x="520"/><use id="k68-11" href="#aL" x="572"/><use id="k68-12" href="#aL" x="624"/></g>
<g id="r69" transform="translate(0,3588)"><path class="ln" d="M-6 0H34M642 0H681"/><text class="lb l" x="-11" y="4.5">69</text><text class="lb" x="687" y="4.5">69</text><use id="k69-1" href="#aR" x="52"/><use id="k69-2" href="#aR" x="104"/><use id="k69-3" href="#tR" x="156"/><use id="k69-4" href="#tR" x="208"/><use id="k69-5" href="#tR" x="260"/><use id="k69-6" href="#aR" x="312"/><use id="k69-7" href="#tR" x="364"/><use id="k69-8" href="#tR" x="416"/><use id="k69-9" href="#aR" x="468"/><use id="k69-10" href="#aR" x="520"/><use id="k69-11" href="#aR" x="572"/><use id="k69-12" href="#aR" x="624"/></g>
<g id="r70" transform="translate(0,3640)"><path class="ln" d="M-6 0H34M642 0H681"/><text class="lb l" x="-11" y="4.5">70</text><text class="lb" x="687" y="4.5">70</text><use id="k70-1" href="#aL" x="52"/><use id="k70-2" href="#tL" x="104"/><use id="k70-3" href="#tL" x="156"/><use id="k70-4" href="#tL" x="208"/><use id="k70-5" href="#tL" x="260"/><use id="k70-6" href="#aL" x="312"/><use id="k70-7" href="#tL" x="364"/><use id="k70-8" href="#tL" x="416"/><use id="k70-9" href="#aL" x="468"/><use id="k70-10" href="#aL" x="520"/><use id="k70-11" href="#aL" x="572"/><use id="k70-12" href="#aL" x="624"/></g>
<g id="r71" transform="translate(0,3692)"><path class="ln" d="M-6 0H34M642 0H681"/><text class="lb l" x="-11" y="4.5">71</text><text class="lb" x="687" y="4.5">71</text><use id="k71-1" href="#aR" x="52"/><use id="k71-2" href="#tR" x="104"/><use id="k71-3" href="#tR" x="156"/><use id="k71-4" href="#tR" x="208"/><use id="k71-5" href="#tR" x="260"/><use id="k71-6" href="#aR" x="312"/><use id="k71-7" href="#aR" x="364"/><use id="k71-8" href="#aR" x="416"/><use id="k71-9" href="#aR" x="468"/><use id="k71-10" href="#aR" x="520"/><use id="k71-11" href="#aR" x="572"/><use id="k71-12" href="#aR" x="624"/></g>
<g id="r72" transform="translate(0,3744)"><path class="ln" d="M-6 0H34M642 0H681"/><text class="lb l" x="-11" y="4.5">72</text><text class="lb" x="687" y="4.5">72</text><use id="k72-1" href="#aL" x="52"/><use id="k72-2" href="#aL" x="104"/><use id="k72-3" href="#aL" x="156"/><use id="k72-4" href="#aL" x="208"/><use id="k72-5" href="#aL" x="260"/><use id="k72-6" href="#aL" x="312"/><use id="k72-7" href="#tL" x="364"/><use id="k72-8" href="#tL" x="416"/><use id="k72-9" href="#aL" x="468"/><use id="k72-10" href="#aL" x="520"/><use id="k72-11" href="#aL" x="572"/><use id="k72-12" href="#aL" x="624"/></g>
<g id="r73" transform="translate(0,3796)"><path class="ln" d="M-6 0H34M642 0H681"/><text class="lb l" x="-11" y="4.5">73</text><text class="lb" x="687" y="4.5">73</text><use id="k73-1" href="#aR" x="52"/><use id="k73-2" href="#aR" x="104"/><use id="k73-3" href="#aR" x="156"/><use id="k73-4" href="#tR" x="208"/><use id="k73-5" href="#tR" x="260"/><use id="k73-6" href="#aR" x="312"/><use id="k73-7" href="#tR" x="364"/><use id="k73-8" href="#tR" x="416"/><use id="k73-9" href="#aR" x="468"/><use id="k73-10" href="#aR" x="520"/><use id="k73-11" href="#aR" x="572"/><use id="k73-12" href="#aR" x="624"/></g>
<g id="r74" transform="translate(0,3848)"><path class="ln" d="M642 0H681"/><text class="lb l" x="-11" y="4.5">74</text><text class="lb" x="687" y="4.5">74</text><use id="k74-1" href="#aL" x="52"/><use id="k74-2" href="#aL" x="104"/><use id="k74-3" href="#aL" x="156"/><use id="k74-4" href="#tL" x="208"/><use id="k74-5" href="#tL" x="260"/><use id="k74-6" href="#aL" x="312"/><use id="k74-7" href="#aL" x="364"/><use id="k74-8" href="#aL" x="416"/><use id="k74-9" href="#aL" x="468"/><use id="k74-10" href="#aL" x="520"/><use id="k74-11" href="#aL" x="572"/><use id="k74-12" href="#aL" x="624"/></g>
<g id="r75" transform="translate(0,3900)"><path class="ln" d="M-6 0H34M642 0H681"/><text class="lb l" x="-11" y="4.5">75</text><text class="lb" x="687" y="4.5">75</text><use id="k75-1" href="#aR" x="52"/><use id="k75-2" href="#aR" x="104"/><use id="k75-3" href="#aR" x="156"/><use id="k75-4" href="#aR" x="208"/><use id="k75-5" href="#aR" x="260"/><use id="k75-6" href="#aR" x="312"/><use id="k75-7" href="#aR" x="364"/><use id="k75-8" href="#aR" x="416"/><use id="k75-9" href="#aR" x="468"/><use id="k75-10" href="#aR" x="520"/><use id="k75-11" href="#aR" x="572"/><use id="k75-12" href="#aR" x="624"/></g>
<g id="r76" transform="translate(0,3952)"><path class="ln" d="M-6 0H34M642 0H681"/><text class="lb l" x="-11" y="4.5">76</text><text class="lb" x="687" y="4.5">76</text><use id="k76-1" href="#aL" x="52"/><use id="k76-2" href="#aL" x="104"/><use id="k76-3" href="#aL" x="156"/><use id="k76-4" href="#aL" x="208"/><use id="k76-5" href="#aL" x="260"/><use id="k76-6" href="#aL" x="312"/><use id="k76-7" href="#aL" x="364"/><use id="k76-8" href="#aL" x="416"/><use id="k76-9" href="#aL" x="468"/><use id="k76-10" href="#aL" x="520"/><use id="k76-11" href="#aL" x="572"/><use id="k76-12" href="#aL" x="624"/></g>
<g id="r77" transform="translate(0,4004)"><path class="ln" d="M-6 0H34"/><text class="lb l" x="-11" y="4.5">77</text><text class="lb" x="687" y="4.5">77</text><use id="k77-1" href="#aR" x="52"/><use id="k77-2" href="#aR" x="104"/><use id="k77-3" href="#aR" x="156"/><use id="k77-4" href="#aR" x="208"/><use id="k77-5" href="#aR" x="260"/><use id="k77-6" href="#aR" x="312"/><use id="k77-7" href="#aR" x="364"/><use id="k77-8" href="#aR" x="416"/><use id="k77-9" href="#aR" x="468"/><use id="k77-10" href="#aR" x="520"/><use id="k77-11" href="#aR" x="572"/><use id="k77-12" href="#aR" x="624"/></g>
<text id="watermark" x="338" y="2058.6" text-anchor="middle" font-family="'Liberation Sans',Arial,sans-serif" font-size="14" font-weight="bold" fill="#3a3a3a" stroke="#fff" stroke-opacity=".55" stroke-width="4" stroke-linejoin="round" paint-order="stroke">BRACELETBOOK.COM</text>
</g>
</svg>
